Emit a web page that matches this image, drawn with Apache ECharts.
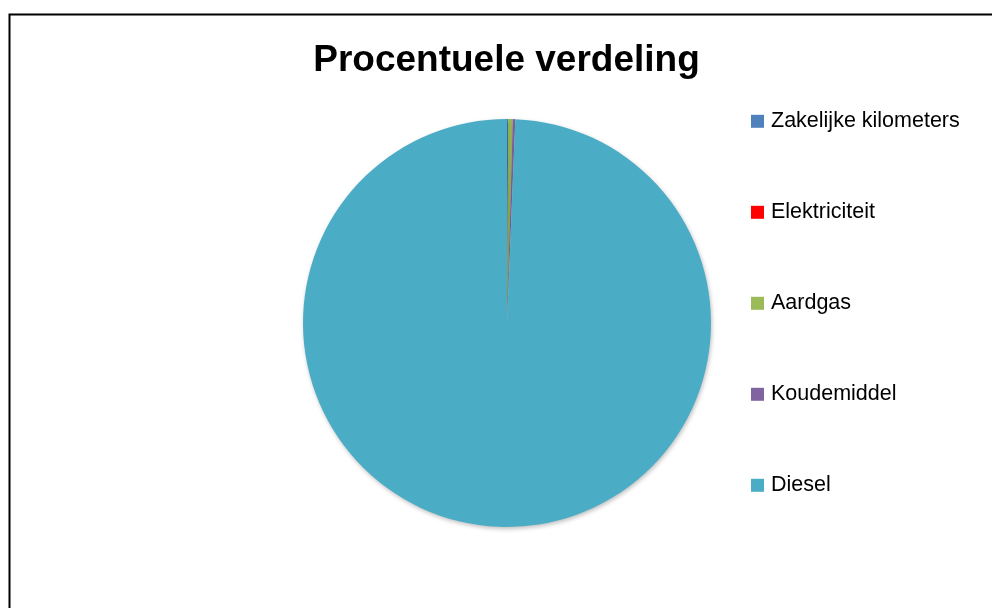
<!DOCTYPE html>
<html><head><meta charset="utf-8">
<script src="https://cdn.jsdelivr.net/npm/echarts@6/dist/echarts.min.js"></script>
<style>html,body{margin:0;padding:0;background:#fff}#c{width:992px;height:608px}</style>
</head><body><div id="c"></div>
<script>
const categories = ["Zakelijke kilometers", "Elektriciteit", "Aardgas", "Koudemiddel", "Diesel"];
const values = [0.1, 0, 0.35, 0.2, 99.35];
const colors = ["#4F81BD", "#FF0000", "#9BBB59", "#8064A2", "#4BACC6"];
const titleText = "Procentuele verdeling";

const chart = echarts.init(document.getElementById('c'));
chart.setOption({
  animation: false,
  backgroundColor: '#fff',
  graphic: [{
    type: 'rect', shape: {x: 9.5, y: 14.5, width: 1000, height: 700},
    style: {fill: 'none', stroke: '#000', lineWidth: 2}, silent: true, z: -1
  }],
  title: {
    text: titleText, left: 506.5, top: 42, textAlign: 'center', padding: 0,
    textStyle: {fontFamily: 'Liberation Sans', fontWeight: 'bold', fontSize: 37, color: '#000'}
  },
  legend: {
    orient: 'vertical', left: 751, top: 110.3, padding: 0,
    icon: 'rect', itemWidth: 13, itemHeight: 13, itemGap: 69,
    textStyle: {fontFamily: 'Liberation Sans', fontSize: 21.5, color: '#000', lineHeight: 22, padding: [0, 0, 0, 2]},
    data: categories
  },
  series: [{
    type: 'pie', center: [507, 323], radius: 204, startAngle: 90, clockwise: true,
    label: {show: false}, labelLine: {show: false},
    itemStyle: {shadowBlur: 4, shadowOffsetX: 1, shadowOffsetY: 2, shadowColor: 'rgba(0,0,0,0.25)'},
    emphasis: {disabled: true},
    data: categories.map((n, i) => ({name: n, value: values[i], itemStyle: {color: colors[i]}}))
  }]
});
</script></body></html>
